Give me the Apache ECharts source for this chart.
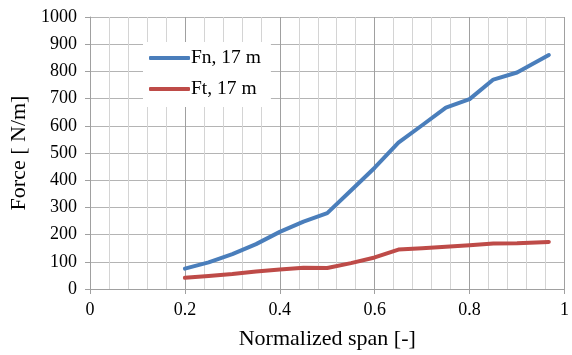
<!DOCTYPE html>
<html>
<head>
<meta charset="utf-8">
<script src="https://cdn.jsdelivr.net/npm/echarts@6/dist/echarts.min.js"></script>
<style>html,body{margin:0;padding:0;background:#fff}#c{width:572px;height:355px}</style>
</head>
<body>
<div id="c"></div>
<script>
const spanX = [0.2, 0.25, 0.3, 0.35, 0.4, 0.45, 0.5, 0.55, 0.6, 0.65, 0.7, 0.75, 0.8, 0.85, 0.9, 0.967];
const fn17 = [75, 98, 128, 165, 210, 248, 279, 362, 446, 538, 602, 667, 698, 770, 796, 860];
const ft17 = [41, 48, 55, 64, 72, 78, 77, 95, 116, 145, 150, 155, 161, 167, 168, 173];
const seriesNames = ['Fn, 17 m', 'Ft, 17 m'];
const xTitle = 'Normalized span [-]';
const yTitle = 'Force [ N/m]';

const font = 'Liberation Serif';
const chart = echarts.init(document.getElementById('c'), null, {renderer: 'canvas'});
const pair = (xs, ys) => xs.map((x, i) => [x, ys[i]]);
chart.setOption({
  animation: false,
  backgroundColor: '#fff',
  grid: {left: 90, right: 4, top: 17, bottom: 64, containLabel: false},
  legend: {
    left: 143, top: 42, orient: 'vertical',
    backgroundColor: '#fff',
    padding: [6, 10, 8, 6],
    itemGap: 11,
    itemWidth: 41, itemHeight: 4,
    icon: 'roundRect',
    textStyle: {fontFamily: font, fontSize: 19.5, color: '#000', padding: [0, 0, 0, -4]},
    data: seriesNames
  },
  xAxis: {
    type: 'value', min: 0, max: 1, interval: 0.2,
    name: xTitle, nameLocation: 'middle', nameGap: 39,
    nameTextStyle: {fontFamily: font, fontSize: 22, color: '#000'},
    axisLine: {show: true, onZero: false, lineStyle: {color: '#a0a0a0', width: 1}},
    axisTick: {show: true, length: 5, lineStyle: {color: '#a0a0a0'}},
    axisLabel: {fontFamily: font, fontSize: 18, color: '#000', margin: 12},
    splitLine: {show: true, lineStyle: {color: '#a0a0a0', width: 1}},
    minorTick: {show: false, splitNumber: 5},
    minorSplitLine: {show: true, lineStyle: {color: '#d4d4d4', width: 1}}
  },
  yAxis: {
    type: 'value', min: 0, max: 1000, interval: 100,
    name: yTitle, nameLocation: 'middle', nameGap: 58, nameRotate: 90,
    nameTextStyle: {fontFamily: font, fontSize: 22, color: '#000'},
    axisLine: {show: true, lineStyle: {color: '#a0a0a0', width: 1}},
    axisTick: {show: true, length: 5, lineStyle: {color: '#a0a0a0'}},
    axisLabel: {fontFamily: font, fontSize: 18, color: '#000', margin: 13, formatter: v => String(v)},
    splitLine: {show: true, lineStyle: {color: '#b4b4b4', width: 1}}
  },
  series: [
    {name: seriesNames[0], type: 'line', data: pair(spanX, fn17), showSymbol: false, symbol: 'none',
     color: '#4a7ebb', lineStyle: {width: 4, color: '#4a7ebb', cap: 'round', join: 'round'}, z: 3},
    {name: seriesNames[1], type: 'line', data: pair(spanX, ft17), showSymbol: false, symbol: 'none',
     color: '#be4b48', lineStyle: {width: 4, color: '#be4b48', cap: 'round', join: 'round'}, z: 2}
  ]
});
</script>
</body>
</html>
